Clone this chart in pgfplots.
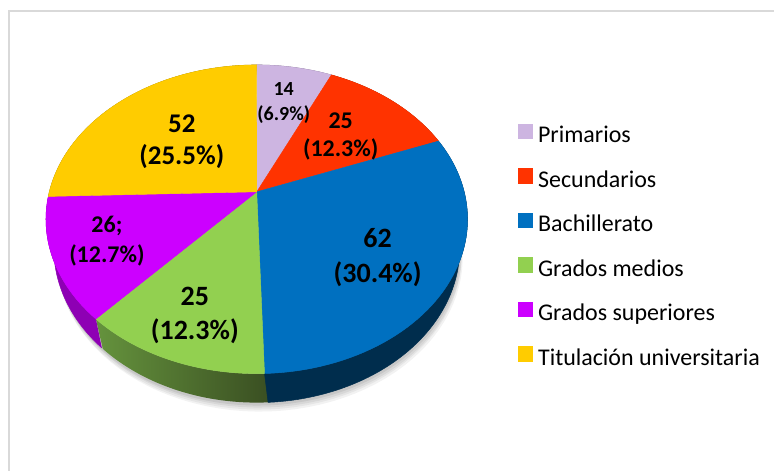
\documentclass[border=0pt]{standalone}
\usepackage{fontspec}
\setmainfont{Carlito}
\usepackage{pgfplots}
\pgfplotsset{compat=1.18}
\definecolor{cPri}{HTML}{CDB5E1}
\definecolor{cSec}{HTML}{FF3300}
\definecolor{cBac}{HTML}{0070C0}
\definecolor{cMed}{HTML}{92D050}
\definecolor{cSup}{HTML}{CC00FF}
\definecolor{cTit}{HTML}{FFCC00}
\definecolor{sPri}{HTML}{7A6C87}
\definecolor{sSec}{HTML}{992000}
\definecolor{sBac}{HTML}{002D4D}
\definecolor{sMedL}{HTML}{65933D}
\definecolor{sMedR}{HTML}{3A4F22}
\definecolor{sSup}{HTML}{8E00B4}
\definecolor{sTit}{HTML}{997A00}
\definecolor{frame}{HTML}{D9D9D9}
% data (values of the pie)
\def\vPri{14}
\def\vSec{25}
\def\vBac{62}
\def\vMed{25}
\def\vSup{26}
\def\vTit{52}
\pgfmathsetmacro\tot{\vPri+\vSec+\vBac+\vMed+\vSup+\vTit}
\pgfmathsetmacro\deg{360/\tot}
\pgfmathsetmacro\aA{-90}
\pgfmathsetmacro\aB{\aA+\deg*\vPri}
\pgfmathsetmacro\aC{\aB+\deg*\vSec}
\pgfmathsetmacro\aD{\aC+\deg*\vBac}
\pgfmathsetmacro\aE{\aD+\deg*\vMed}
\pgfmathsetmacro\aF{\aE+\deg*\vSup}
\pgfmathsetmacro\aG{\aF+\deg*\vTit}
\pgfmathsetmacro\aDx{\aD-1}
% side wall of a slice between two angles
\newcommand\sidewall[3]{%
  \addplot[forget plot, line width=0.5bp, #3, domain=0:2, samples=241, variable=\s]
   ({(\s<=1) ? PX(#1+(#2-#1)*\s) : BX(#2-(#2-#1)*(\s-1))},
    {(\s<=1) ? PY(#1+(#2-#1)*\s) : BY(#2-(#2-#1)*(\s-1))});
}
\newcommand\topface[3]{%
  \addplot[fill=#3, draw=#3, line width=0.4bp, domain=#1:#2, samples=60, variable=\t]
   ({PX(\t)},{PY(\t)}) -- (axis cs:257,192) -- cycle;
}
\begin{document}
\begin{tikzpicture}
\begin{axis}[
  width=775bp, height=471bp, scale only axis,
  xmin=0, xmax=775, ymin=0, ymax=471, y dir=reverse,
  hide axis, clip=false,
  declare function={
    W(\t)=1-0.178*sin(\t);
    PX(\t)=257+207.6*cos(\t)/W(\t);
    PY(\t)=192+149.6*sin(\t)/W(\t);
    BX(\t)=257+0.963*207.6*cos(\t)/W(\t);
    BY(\t)=192+149.6*sin(\t)/W(\t)+29;
  },
  legend style={at={(axis cs:518,123.5)}, anchor=north west, draw=none, fill=none,
    inner sep=0pt, font=\fontsize{24bp}{28bp}\selectfont, row sep=20.4bp,
    nodes={inner sep=0pt, text height=16bp, text depth=5bp},
    /tikz/every odd column/.append style={column sep=5.5bp}},
  legend cell align=left,
  legend image code/.code={\fill[#1] (0bp,-1bp) rectangle (14.5bp,13.5bp);},
]
\path[fill=white] (axis cs:0,0) rectangle (axis cs:775,471);
\draw[frame, line width=1.5bp] (axis cs:9,471) -- (axis cs:9,11) -- (axis cs:775,11);
% soft shadow
\addplot[forget plot, fill=black, fill opacity=0.05, draw=none, domain=0:360, samples=120, variable=\t] ({BX(\t)+3},{BY(\t)+9});
\addplot[forget plot, fill=black, fill opacity=0.05, draw=none, domain=0:360, samples=120, variable=\t] ({BX(\t)+2},{BY(\t)+7});
\addplot[forget plot, fill=black, fill opacity=0.06, draw=none, domain=0:360, samples=120, variable=\t] ({BX(\t)+2},{BY(\t)+5});
\addplot[forget plot, fill=black, fill opacity=0.07, draw=none, domain=0:360, samples=120, variable=\t] ({BX(\t)+1},{BY(\t)+3});
% side walls
\sidewall{\aDx}{\aE}{left color=sMedL, right color=sMedR, draw=none}
\sidewall{\aA}{\aB}{fill=sPri, draw=sPri}
\sidewall{\aB}{\aC}{fill=sSec, draw=sSec}
\sidewall{\aC}{\aD}{fill=sBac, draw=sBac}
\sidewall{\aE}{\aF}{fill=sSup, draw=sSup}
\sidewall{\aF}{\aG}{fill=sTit, draw=sTit}
% top faces
\topface{\aA}{\aB}{cPri}
\addlegendentry{Primarios}
\topface{\aB}{\aC}{cSec}
\addlegendentry{Secundarios}
\topface{\aC}{\aD}{cBac}
\addlegendentry{Bachillerato}
\topface{\aD}{\aE}{cMed}
\addlegendentry{Grados medios}
\topface{\aE}{\aF}{cSup}
\addlegendentry{Grados superiores}
\topface{\aF}{\aG}{cTit}
\addlegendentry{Titulación universitaria}
% data labels
\node[align=center, font=\fontsize{20bp}{25bp}\selectfont\bfseries] at (axis cs:284,103) {14\\(6.9\%)};
\node[align=center, font=\fontsize{24bp}{28bp}\selectfont\bfseries] at (axis cs:341,137) {25\\(12.3\%)};
\node[align=center, font=\fontsize{27bp}{32bp}\selectfont\bfseries] at (axis cs:182,142) {52\\(25.5\%)};
\node[align=center, font=\fontsize{28bp}{35bp}\selectfont\bfseries] at (axis cs:378,258) {62\\(30.4\%)};
\node[align=center, font=\fontsize{24bp}{30bp}\selectfont\bfseries] at (axis cs:107,241) {26;\\(12.7\%)};
\node[align=center, font=\fontsize{28bp}{34bp}\selectfont\bfseries] at (axis cs:195,316) {25\\(12.3\%)};
\end{axis}
\end{tikzpicture}
\end{document}
